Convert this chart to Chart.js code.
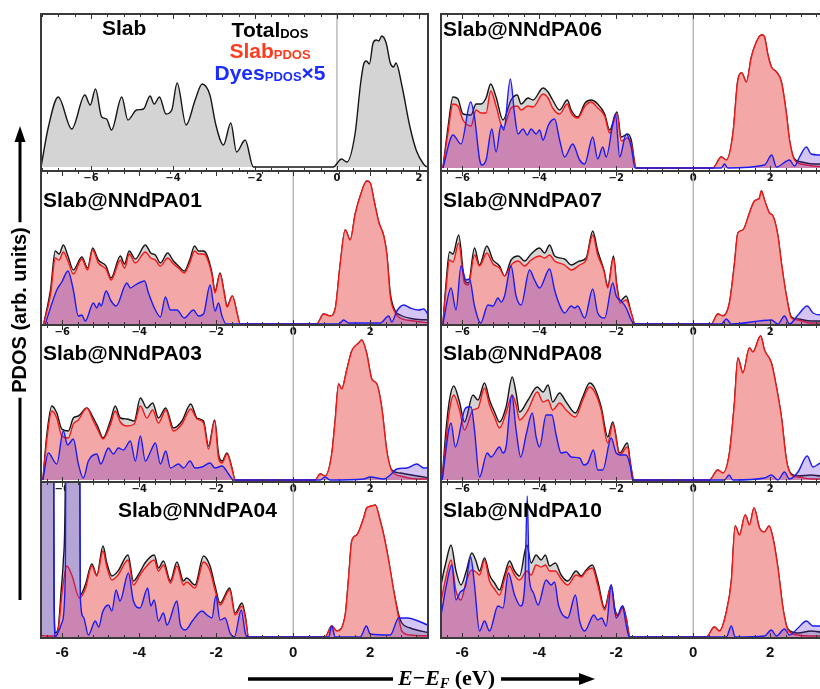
<!DOCTYPE html>
<html>
<head>
<meta charset="utf-8">
<script src="https://cdn.jsdelivr.net/npm/chart.js@4.4.0/dist/chart.umd.min.js"></script>
<style>
  html, body { margin: 0; padding: 0; background: #fff; overflow: hidden; }
  #wrap { position: relative; width: 820px; height: 689px; overflow: hidden; background: #fff; }
  #wrap canvas { position: absolute; }
</style>
</head>
<body>
<div id="wrap"><canvas id="ov" width="820" height="689" style="left:0;top:0;z-index:5"></canvas></div>
<script>
// Tick labels of every panel (eV)
var tickVals = [-6, -4, -2, 0, 2];

// Slab only: total DOS
var slabTotE = [-7.22,-7.04,-6.80,-6.47,-6.15,-6.02,-5.89,-5.74,-5.62,-5.50,-5.25,-5.10,-4.89,-4.72,-4.56,-4.46,-4.33,-4.17,-4.03,-3.90,-3.68,-3.46,-3.29,-3.10,-2.96,-2.77,-2.59,-2.45,-2.24,-2.04,
  -0.09,0.11,0.24,0.44,0.58,0.66,0.72,0.79,0.88,0.96,1.02,1.09,1.20,1.30,1.38,1.44,1.58,1.78,1.94,2.11,2.19];
var slabTot = [0,40,70,38,72,62,78,50,48,37,70,47,57,58,71,63,70,53,57,84,42,67,83,72,43,22,44,15,27,0,
  0,8,5,33,85,104,106,103,124,127,126,131,124,104,100,104,82,40,16,3,0];

// Slab@NNdPA01
var a01E = [-6.48,-6.30,-6.18,-6.08,-5.97,-5.85,-5.71,-5.49,-5.34,-5.21,-5.06,-4.86,-4.73,-4.49,-4.38,-4.26,-4.10,-3.84,-3.70,-3.58,-3.45,-3.26,-3.11,-2.98,-2.83,-2.69,-2.56,-2.46,-2.33,-2.24,-2.11,-2.03,-1.90,-1.79,-1.72,-1.58,-1.46,-1.38,
  0.61,0.79,0.96,1.09,1.22,1.35,1.48,1.61,1.74,1.91,2.00,2.09,2.22,2.35,2.43,2.52,2.65,2.78,3.13,3.56];
var a01Tot = [0,35,73,70,79,68,54,67,56,76,64,58,46,68,60,73,65,79,71,69,61,71,63,58,53,64,78,73,73,69,51,33,51,31,18,28,11,0,
  0,10,8,15,60,94,84,110,128,143,141,125,102,88,70,31,13,9,5,4];
var a01Slab = [0,30,66,64,72,63,50,65,54,74,61,55,44,64,56,70,61,72,66,64,58,66,60,56,51,61,73,70,70,66,49,31,50,30,17,28,11,0,
  0,10,8,15,60,94,84,110,128,143,141,125,102,88,70,28,11,6,3,1];
var a01DyeE = [-6.44,-6.14,-6.01,-5.85,-5.71,-5.58,-5.49,-5.40,-5.19,-5.10,-5.04,-4.99,-4.86,-4.73,-4.60,-4.32,-4.23,-4.10,-3.86,-3.76,-3.58,-3.45,-3.32,-3.19,-3.02,-2.83,-2.59,-2.46,-2.33,-2.16,-2.03,-1.94,-1.85,-1.74,
  1.18,1.31,1.44,2.26,2.48,2.56,2.69,2.87,3.04,3.26,3.39,3.52];
var a01Dye = [0,34,42,53,34,8,9,3,21,16,21,18,33,23,18,41,36,39,43,31,14,7,27,14,14,6,14,8,10,39,13,21,8,0,
  0,4,1,1,8,2,13,19,16,14,15,8];

// Slab@NNdPA06
var a06E = [-6.50,-6.37,-6.24,-6.11,-5.98,-5.77,-5.64,-5.51,-5.38,-5.26,-5.12,-4.94,-4.73,-4.57,-4.47,-4.29,-4.16,-3.90,-3.77,-3.65,-3.47,-3.27,-3.17,-3.00,-2.81,-2.65,-2.48,-2.30,-2.17,-1.98,-1.87,-1.70,-1.61,-1.48,
  0.51,0.73,0.86,1.03,1.16,1.26,1.38,1.51,1.64,1.77,1.84,1.94,2.03,2.16,2.29,2.42,2.50,2.63,2.81,3.13,3.58];
var a06Tot = [0,40,71,69,54,53,64,64,70,84,71,48,68,73,64,70,68,80,76,68,58,68,58,51,65,68,64,54,38,56,31,34,28,0,
  0,11,8,34,88,95,86,111,126,133,132,113,101,96,86,54,28,9,6,4,4];
var a06Slab = [0,35,64,62,48,42,58,55,55,77,62,40,60,62,58,62,61,74,70,60,54,64,55,50,62,66,60,52,35,54,27,30,24,0,
  0,11,8,34,88,95,86,111,126,133,132,113,101,96,86,54,28,8,4,2,1];
var a06DyeE = [-6.50,-6.24,-6.03,-5.78,-5.68,-5.55,-5.49,-5.38,-5.23,-5.12,-4.99,-4.92,-4.75,-4.64,-4.55,-4.42,-4.31,-4.21,-4.08,-3.99,-3.90,-3.76,-3.60,-3.47,-3.34,-3.13,-2.95,-2.82,-2.61,-2.48,-2.35,-2.26,-2.02,-1.91,-1.74,-1.61,-1.51,
  0.73,0.81,0.90,1.85,2.04,2.16,2.50,2.63,2.76,2.94,3.06,3.28,3.58];
var a06Dye = [0,33,24,66,51,9,3,8,39,16,43,38,89,54,34,39,33,39,34,38,28,43,49,28,11,24,8,4,31,9,21,11,54,11,34,21,0,
  0,4,0,3,13,1,8,2,11,21,14,13,12];

// Slab@NNdPA07
var a07E = [-6.50,-6.42,-6.33,-6.24,-6.09,-5.94,-5.84,-5.68,-5.55,-5.36,-5.20,-5.03,-4.90,-4.73,-4.54,-4.38,-4.21,-3.99,-3.86,-3.73,-3.60,-3.34,-3.17,-2.95,-2.78,-2.61,-2.48,-2.32,-2.22,-2.07,-1.99,-1.90,-1.74,-1.61,-1.51,
  0.47,0.64,0.77,0.94,1.07,1.16,1.29,1.46,1.59,1.72,1.77,1.85,1.98,2.07,2.20,2.29,2.42,2.55,2.72,3.06,3.58];
var a07Tot = [0,40,72,70,89,44,41,76,59,78,64,58,48,64,68,63,70,76,71,79,68,65,59,63,66,93,73,54,38,68,41,23,28,11,0,
  0,10,8,21,60,91,94,111,123,126,133,124,111,108,88,61,28,7,5,3,3];
var a07Slab = [0,35,64,62,81,41,39,69,58,71,60,56,48,59,63,58,64,68,66,69,63,59,54,59,64,89,69,53,36,66,39,21,24,11,0,
  0,10,8,21,60,91,94,111,123,126,133,124,111,108,88,61,28,6,4,1,1];
var a07DyeE = [-6.50,-6.29,-6.16,-6.03,-5.90,-5.81,-5.68,-5.52,-5.33,-5.20,-5.07,-4.99,-4.90,-4.73,-4.60,-4.47,-4.25,-4.12,-3.99,-3.73,-3.60,-3.47,-3.34,-3.17,-3.08,-3.00,-2.82,-2.61,-2.48,-2.30,-2.09,-2.00,-1.87,-1.74,-1.61,-1.51,
  0.73,0.86,0.99,2.03,2.20,2.37,2.50,2.72,2.96,3.11,3.32,3.58];
var a07Dye = [0,36,14,58,44,45,18,1,19,18,26,22,28,58,28,19,54,44,36,55,34,19,11,18,16,18,6,35,11,6,41,28,23,16,4,0,
  0,5,0,4,0,8,0,9,18,11,9,9];

// Slab@NNdPA03
var a03E = [-6.50,-6.40,-6.27,-6.14,-6.01,-5.84,-5.71,-5.58,-5.36,-5.19,-5.06,-4.94,-4.75,-4.62,-4.49,-4.32,-4.13,-3.97,-3.80,-3.65,-3.50,-3.31,-3.11,-2.89,-2.66,-2.50,-2.33,-2.20,-2.04,-1.94,-1.85,-1.72,-1.59,-1.51,
  0.57,0.70,0.83,1.00,1.09,1.18,1.26,1.39,1.52,1.70,1.78,1.91,2.04,2.17,2.30,2.43,2.56,2.78,3.22,3.56];
var a03Tot = [0,45,74,67,51,49,62,64,72,62,52,42,59,74,62,61,59,82,72,77,62,72,52,59,76,62,59,34,60,26,19,27,12,0,
  0,6,4,26,60,96,91,110,129,137,140,126,101,96,72,29,10,7,4,2];
var a03Slab = [0,40,69,62,44,42,56,60,72,59,49,41,55,69,58,54,56,74,62,70,57,70,49,56,71,61,57,31,59,22,17,26,11,0,
  0,6,4,26,60,96,91,110,129,137,140,126,101,96,72,29,9,4,1,1];
var a03DyeE = [-6.50,-6.36,-6.14,-5.97,-5.86,-5.71,-5.58,-5.45,-5.32,-5.10,-5.00,-4.80,-4.67,-4.54,-4.41,-4.23,-4.10,-3.97,-3.84,-3.71,-3.58,-3.45,-3.31,-3.19,-2.98,-2.85,-2.68,-2.55,-2.37,-2.16,-2.03,-1.85,-1.68,-1.55,
  0.70,0.83,0.96,1.83,2.00,2.35,2.52,2.69,2.95,3.21,3.39,3.56];
var a03Dye = [0,27,16,49,35,41,16,2,19,26,16,32,26,32,30,39,19,44,19,28,37,16,29,12,16,12,19,12,13,17,12,14,6,0,
  0,3,0,1,3,1,5,11,12,16,12,13];

// Slab@NNdPA08
var a08E = [-6.52,-6.42,-6.33,-6.22,-6.07,-5.94,-5.72,-5.59,-5.42,-5.29,-5.16,-5.03,-4.86,-4.70,-4.60,-4.51,-4.29,-4.05,-3.90,-3.77,-3.65,-3.47,-3.30,-3.06,-2.87,-2.69,-2.56,-2.39,-2.22,-2.09,-1.91,-1.71,-1.63,-1.54,
  0.42,0.64,0.77,0.94,1.07,1.16,1.29,1.46,1.55,1.75,1.85,2.03,2.16,2.29,2.42,2.55,2.72,3.06,3.32,3.58];
var a08Tot = [0,50,80,94,78,58,85,80,97,80,68,58,73,103,87,68,80,93,88,95,78,87,78,67,83,97,92,73,43,58,27,37,17,0,
  0,10,7,27,77,122,107,132,128,144,130,117,93,63,20,6,4,5,4,4];
var a08Slab = [0,40,70,85,70,50,70,72,92,75,63,52,67,85,75,60,70,88,78,80,70,77,70,63,80,93,88,70,37,56,25,33,15,0,
  0,10,7,27,77,122,107,132,128,144,130,117,93,63,20,5,3,1,1,1];
var a08DyeE = [-6.52,-6.29,-6.18,-5.94,-5.85,-5.77,-5.68,-5.55,-5.35,-5.25,-5.03,-4.94,-4.86,-4.71,-4.60,-4.48,-4.34,-4.18,-4.08,-3.99,-3.82,-3.67,-3.56,-3.43,-3.30,-3.17,-2.95,-2.84,-2.74,-2.59,-2.48,-2.35,-2.13,-2.00,-1.87,-1.74,-1.63,-1.57,
  0.81,0.93,1.03,1.85,2.03,2.20,2.37,2.50,2.72,2.96,3.11,3.32,3.58];
var a08Dye = [0,57,33,70,73,73,50,3,27,23,33,27,33,85,50,23,45,67,43,33,65,65,45,27,28,23,22,15,17,30,10,10,42,27,25,25,13,0,
  0,5,0,2,5,0,8,1,8,24,13,17,15];

// Slab@NNdPA04 (two dye peaks run off the top)
var a04TotE = [-6.60,-6.53,-6.26,-6.21,-6.18,-6.10,-6.03,-5.97,-5.92,-5.87,-5.58,-5.53,-5.40,-5.23,-5.10,-4.94,-4.84,-4.71,-4.55,-4.29,-4.15,-3.98,-3.85,-3.61,-3.50,-3.37,-3.19,-3.02,-2.85,-2.77,-2.55,-2.33,-2.16,-2.03,-1.90,-1.65,-1.51,-1.33,-1.24,-1.16,
  0.83,1.00,1.13,1.35,1.44,1.52,1.65,1.83,1.91,2.04,2.13,2.26,2.35,2.48,2.61,2.74,2.82,3.04,3.56];
var a04Tot = [400,600,600,40,4,10,45,76,150,600,600,42,52,73,62,91,74,61,66,82,56,65,74,82,69,76,56,75,56,59,52,81,71,51,34,49,24,34,20,0,
  0,11,6,22,60,96,102,119,129,131,132,116,102,76,46,22,14,9,4];
var a04SlabE = [-6.60,-6.40,-6.18,-6.10,-6.00,-5.88,-5.75,-5.55,-5.40,-5.23,-5.10,-4.94,-4.84,-4.71,-4.55,-4.29,-4.15,-3.98,-3.85,-3.61,-3.50,-3.37,-3.19,-3.02,-2.85,-2.77,-2.55,-2.33,-2.16,-2.03,-1.90,-1.65,-1.51,-1.33,-1.24,-1.16,
  0.83,1.00,1.13,1.35,1.44,1.52,1.65,1.83,1.91,2.04,2.13,2.26,2.35,2.48,2.61,2.74,2.82,3.04,3.56];
var a04Slab = [2,1,1,8,45,71,62,39,48,71,61,86,70,57,62,77,52,62,69,77,66,72,54,71,52,55,49,75,66,47,32,47,22,31,18,0,
  0,11,6,22,60,96,102,119,129,131,132,116,102,76,46,19,6,2,1];
var a04DyeE = [-6.60,-6.53,-6.26,-6.21,-6.18,-6.10,-6.00,-5.92,-5.87,-5.58,-5.53,-5.45,-5.32,-5.14,-5.05,-4.95,-4.80,-4.71,-4.60,-4.50,-4.28,-4.15,-3.98,-3.78,-3.70,-3.61,-3.50,-3.37,-3.28,-3.02,-2.93,-2.80,-2.62,-2.37,-2.24,-2.11,-2.01,-1.90,-1.77,-1.64,-1.53,-1.35,-1.25,-1.20,
  0.92,1.00,1.09,1.74,1.90,2.00,2.52,2.74,2.95,3.56];
var a04Dye = [400,600,600,40,0,5,15,60,600,600,40,20,2,16,10,25,32,26,47,36,64,36,29,49,31,37,16,24,12,36,12,7,16,26,22,19,41,17,19,4,0,27,5,0,
  0,11,0,0,11,3,2,19,19,11];

// Slab@NNdPA10
var a10E = [-6.60,-6.55,-6.42,-6.29,-6.16,-6.03,-5.90,-5.75,-5.64,-5.55,-5.42,-5.29,-5.16,-5.03,-4.90,-4.77,-4.64,-4.51,-4.32,-4.21,-4.08,-3.95,-3.84,-3.73,-3.58,-3.43,-3.26,-3.04,-2.91,-2.78,-2.62,-2.48,-2.30,-2.13,-2.04,-1.96,-1.83,-1.74,-1.64,
  0.34,0.55,0.68,0.86,0.99,1.09,1.20,1.35,1.46,1.58,1.72,1.85,1.97,2.07,2.20,2.33,2.46,2.72,3.06,3.32,3.58];
var a10Tot = [40,52,75,92,66,52,65,84,76,66,79,62,54,47,62,76,66,61,92,74,82,77,82,71,74,62,56,66,61,67,72,56,29,52,29,22,31,19,0,
  0,10,6,25,56,111,102,122,112,129,109,105,111,99,69,29,8,4,6,5,5];
var a10Slab = [30,36,60,77,46,37,55,67,65,62,77,56,48,42,58,71,62,57,66,62,72,70,72,66,66,58,52,62,60,66,69,52,27,51,26,21,29,18,0,
  0,10,6,25,56,111,102,122,112,129,109,105,111,99,69,29,7,2,1,1,1];
var a10DyeE = [-6.60,-6.55,-6.42,-6.27,-6.16,-6.05,-5.92,-5.78,-5.68,-5.55,-5.42,-5.29,-5.07,-4.94,-4.80,-4.64,-4.48,-4.37,-4.31,-4.26,-4.16,-4.03,-3.82,-3.69,-3.60,-3.50,-3.26,-3.06,-2.95,-2.82,-2.58,-2.48,-2.38,-2.26,-2.13,-2.00,-1.84,-1.74,-1.66,
  0.86,0.99,1.09,1.85,2.03,2.16,2.37,2.50,2.72,2.94,3.11,3.32,3.58];
var a10Dye = [15,22,50,72,37,45,50,80,52,6,16,6,31,29,64,42,31,55,141,60,45,32,57,52,55,32,19,42,16,6,22,17,19,11,52,19,31,12,0,
  0,11,0,1,7,1,8,2,9,16,11,11,11];

// ---- layout ----
var colX = [41, 441];
var rowTop = [14, 171, 325, 482];
var rowBot = [171, 325, 482, 638];
var plotW = 387;

var styles = {
  tot:  { line: '#161616', fill: '#d4d4d4', order: 3 },
  slab: { line: '#f01818', fill: '#f3a8a7', order: 2 },
  dye:  { line: '#1c1cf2', fill: 'rgba(95,40,215,0.27)', order: 1 }
};

function ds(xs, ys, kind) {
  var st = styles[kind];
  return {
    data: xs.map(function(x, i) { return { x: x, y: ys[i] }; }),
    borderColor: st.line,
    backgroundColor: st.fill,
    borderWidth: 1.4,
    fill: 'origin',
    order: st.order,
    pointRadius: 0,
    cubicInterpolationMode: 'monotone'
  };
}

var panels = [
  { col: 0, row: 0, min: -7.22, max: 2.22, yMin: -4, sets: [ds(slabTotE, slabTot, 'tot')] },
  { col: 1, row: 0, min: -6.55, max: 3.5, yMin: -3, sets: [ds(a06E, a06Tot, 'tot'), ds(a06E, a06Slab, 'slab'), ds(a06DyeE, a06Dye, 'dye')] },
  { col: 0, row: 1, min: -6.55, max: 3.5, yMin: -1, sets: [ds(a01E, a01Tot, 'tot'), ds(a01E, a01Slab, 'slab'), ds(a01DyeE, a01Dye, 'dye')] },
  { col: 1, row: 1, min: -6.55, max: 3.5, yMin: -1, sets: [ds(a07E, a07Tot, 'tot'), ds(a07E, a07Slab, 'slab'), ds(a07DyeE, a07Dye, 'dye')] },
  { col: 0, row: 2, min: -6.55, max: 3.5, yMin: -2, sets: [ds(a03E, a03Tot, 'tot'), ds(a03E, a03Slab, 'slab'), ds(a03DyeE, a03Dye, 'dye')] },
  { col: 1, row: 2, min: -6.55, max: 3.5, yMin: -2, sets: [ds(a08E, a08Tot, 'tot'), ds(a08E, a08Slab, 'slab'), ds(a08DyeE, a08Dye, 'dye')] },
  { col: 0, row: 3, min: -6.55, max: 3.5, yMin: -1, sets: [ds(a04TotE, a04Tot, 'tot'), ds(a04SlabE, a04Slab, 'slab'), ds(a04DyeE, a04Dye, 'dye')] },
  { col: 1, row: 3, min: -6.55, max: 3.5, yMin: -1, sets: [ds(a10E, a10Tot, 'tot'), ds(a10E, a10Slab, 'slab'), ds(a10DyeE, a10Dye, 'dye')] }
];

// frame, inward ticks, zero line and tick labels of one panel
var frame = {
  id: 'frame',
  beforeDatasetsDraw: function(chart) {
    var ctx = chart.ctx, a = chart.chartArea;
    var x0 = chart.scales.x.getPixelForValue(0);
    ctx.save();
    ctx.strokeStyle = '#b9b9b9';
    ctx.lineWidth = 1.5;
    ctx.beginPath();
    ctx.moveTo(x0, a.top);
    ctx.lineTo(x0, a.bottom);
    ctx.stroke();
    ctx.restore();
  },
  afterDraw: function(chart, args, opts) {
    var ctx = chart.ctx, a = chart.chartArea, sx = chart.scales.x;
    ctx.save();
    ctx.strokeStyle = '#333';
    ctx.lineWidth = 1;
    for (var k = -20; k <= 10; k++) {
      var v = k * 0.4;
      if (v < sx.min || v > sx.max) continue;
      var px = Math.round(sx.getPixelForValue(v)) + 0.5;
      var len = (k % 5 === 0) ? 5 : 3;
      ctx.beginPath();
      ctx.moveTo(px, a.top); ctx.lineTo(px, a.top + len);
      ctx.moveTo(px, a.bottom); ctx.lineTo(px, a.bottom - len);
      ctx.stroke();
    }
    ctx.lineWidth = 2;
    ctx.strokeStyle = '#3a3a3a';
    ctx.strokeRect(a.left, a.top, a.right - a.left, a.bottom - a.top);
    ctx.fillStyle = '#111';
    ctx.textAlign = 'center';
    ctx.textBaseline = 'middle';
    ctx.font = opts.big ? 'bold 15px "Liberation Sans", Arial, sans-serif' : 'bold 10px "DejaVu Sans", sans-serif';
    tickVals.forEach(function(t) {
      var txt = t < 0 ? (opts.big ? '-' : '\u2212') + (-t) : String(t);
      ctx.fillText(txt, sx.getPixelForValue(t), a.bottom + (opts.big ? 15 : 7));
    });
    ctx.restore();
  }
};

var wrap = document.getElementById('wrap');
panels.forEach(function(p) {
  var left = colX[p.col], top = rowTop[p.row], h = rowBot[p.row] - top;
  var big = p.row === 3;
  var padB = big ? 30 : 18;
  var c = document.createElement('canvas');
  c.width = plotW + 4;
  c.height = h + 2 + padB;
  c.style.left = (left - 2) + 'px';
  c.style.top = (top - 2) + 'px';
  wrap.insertBefore(c, document.getElementById('ov'));
  new Chart(c, {
    type: 'line',
    data: { datasets: p.sets },
    options: {
      responsive: false,
      animation: false,
      events: [],
      layout: { padding: { left: 2, right: 2, top: 2, bottom: padB } },
      plugins: { legend: { display: false }, tooltip: { enabled: false }, frame: { big: big } },
      scales: {
        x: { type: 'linear', min: p.min, max: p.max, display: false },
        y: { min: p.yMin, max: h + p.yMin, display: false }
      }
    },
    plugins: [frame]
  });
});

// ---- titles, legend and axis captions ----
var g = document.getElementById('ov').getContext('2d');
var SANS = '"Liberation Sans", Arial, sans-serif';
var SERIF = '"Liberation Serif", "Times New Roman", serif';

var titles = [
  ['Slab', 102, 35], ['Slab@NNdPA06', 443, 36],
  ['Slab@NNdPA01', 43, 207], ['Slab@NNdPA07', 443, 207],
  ['Slab@NNdPA03', 43, 360], ['Slab@NNdPA08', 443, 360],
  ['Slab@NNdPA04', 118, 517], ['Slab@NNdPA10', 443, 517]
];
g.fillStyle = '#000';
g.font = 'bold 21px ' + SANS;
titles.forEach(function(t) { g.fillText(t[0], t[1], t[2]); });

// text made of pieces: [text, font, dy]
function pieces(parts, x, y, color, center) {
  var w = 0;
  parts.forEach(function(p) { g.font = p[1]; w += g.measureText(p[0]).width; });
  var cx = center ? x - w / 2 : x;
  g.fillStyle = color;
  parts.forEach(function(p) {
    g.font = p[1];
    g.fillText(p[0], cx, y + (p[2] || 0));
    cx += g.measureText(p[0]).width;
  });
  return w;
}
var LB = 'bold 21px ' + SANS, LS = 'bold 13px ' + SANS;
pieces([['Total', LB], ['DOS', LS, 1]], 270, 37, '#000', true);
pieces([['Slab', LB], ['PDOS', LS, 1]], 270, 58, '#ff3b1e', true);
pieces([['Dyes', LB], ['PDOS', LS, 1], ['\u00d75', LB]], 270, 80, '#1a2cff', true);

// vertical caption with arrow
g.save();
g.translate(20, 310);
g.rotate(-Math.PI / 2);
g.font = 'bold 20px ' + SANS;
g.textAlign = 'center';
g.textBaseline = 'middle';
g.fillStyle = '#000';
g.fillText('PDOS (arb. units)', 0, 0);
var vw = g.measureText('PDOS (arb. units)').width;
g.restore();
g.strokeStyle = '#000';
g.lineWidth = 3;
g.beginPath();
g.moveTo(20, 600); g.lineTo(20, 310 + vw / 2 + 5);
g.moveTo(20, 310 - vw / 2 - 5); g.lineTo(20, 138);
g.stroke();
g.fillStyle = '#000';
g.beginPath();
g.moveTo(20, 126); g.lineTo(14.5, 142); g.lineTo(25.5, 142); g.closePath();
g.fill();

// horizontal caption with arrow
var tx = 398, ty = 685;
var hw = pieces([
  ['E', 'italic bold 22px ' + SERIF],
  ['\u2212', 'bold 22px ' + SERIF],
  ['E', 'italic bold 22px ' + SERIF],
  ['F', 'italic bold 14px ' + SERIF, 3],
  [' (eV)', 'bold 22px ' + SERIF]
], tx, ty, '#000', false);
g.lineWidth = 3.5;
g.beginPath();
g.moveTo(248, 679); g.lineTo(tx - 5, 679);
g.moveTo(tx + hw + 6, 679); g.lineTo(582, 679);
g.stroke();
g.beginPath();
g.moveTo(595, 679); g.lineTo(579, 673); g.lineTo(579, 685); g.closePath();
g.fill();
</script>
</body>
</html>
